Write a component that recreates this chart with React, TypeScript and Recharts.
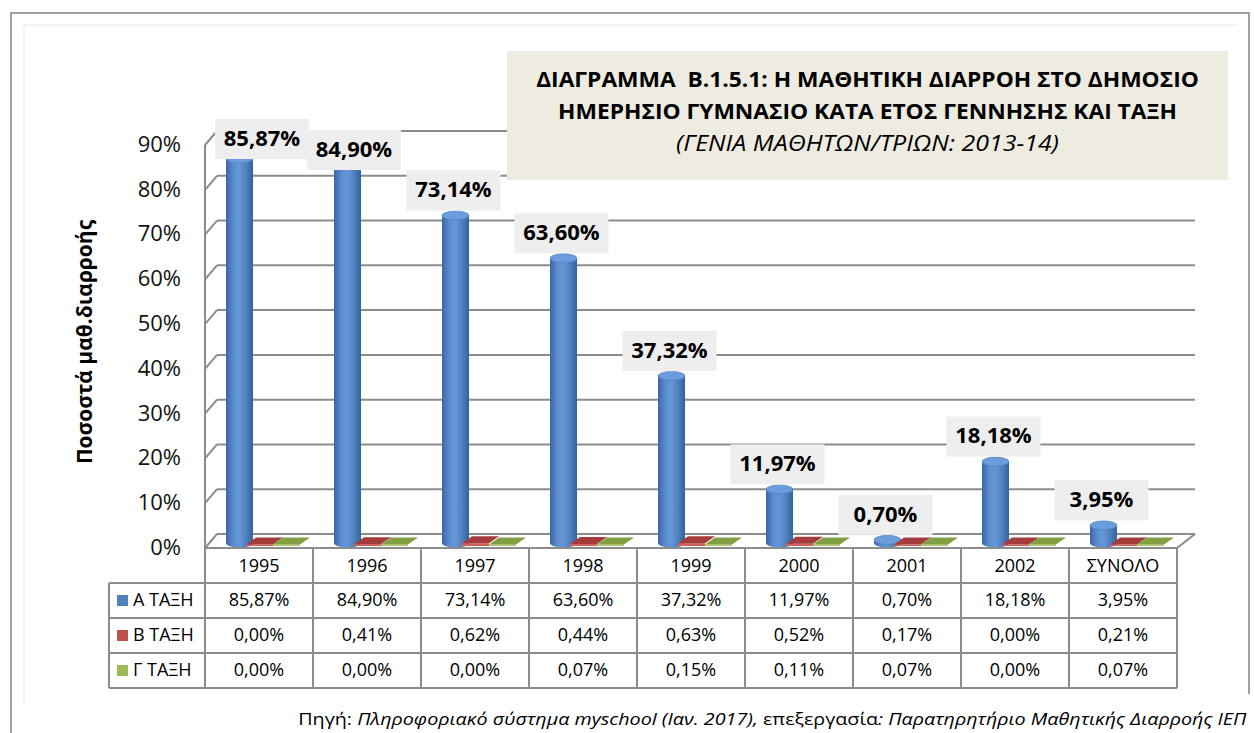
import { BarChart, Bar, XAxis, YAxis, CartesianGrid, LabelList } from 'recharts';

const years = ['1995', '1996', '1997', '1998', '1999', '2000', '2001', '2002', 'ΣΥΝΟΛΟ'];
const classA = [85.87, 84.9, 73.14, 63.6, 37.32, 11.97, 0.7, 18.18, 3.95];
const classB = [0.0, 0.41, 0.62, 0.44, 0.63, 0.52, 0.17, 0.0, 0.21];
const classC = [0.0, 0.0, 0.0, 0.07, 0.15, 0.11, 0.07, 0.0, 0.07];
const seriesNames = ['Α ΤΑΞΗ', 'Β ΤΑΞΗ', 'Γ ΤΑΞΗ'];
const yTicks = [0, 10, 20, 30, 40, 50, 60, 70, 80, 90];

const data = years.map((y, i) => ({ year: y, a: classA[i], b: classB[i], c: classC[i] }));

const FONT = '"Open Sans", "Noto Sans", sans-serif';
const W = 1254;
const H = 733;
const PLOT_L = 205;
const PLOT_R = 1177;
const PLOT_T = 145;
const PLOT_B = 548;
const DX = 12; // depth of the 3d walls
const DY = 14;
const GRID = '#8c8c8c';

const fmt = (v: number) => v.toFixed(2).replace('.', ',') + '%';

// blue cylinder
function Cylinder(props: any) {
  const { x, y, width, height } = props;
  if (x == null || y == null) return null;
  const cx = x + width / 2 + 7;
  const rx = width / 2;
  const ry = 4.5;
  const yb = y + height - 5;
  const yt = y - 5;
  return (
    <g>
      <path
        d={`M${cx - rx},${yt} L${cx - rx},${yb} A${rx},${ry} 0 0 0 ${cx + rx},${yb} L${cx + rx},${yt} Z`}
        fill="url(#cylGrad)"
      />
      <ellipse cx={cx} cy={yt} rx={rx} ry={ry} fill="#6b9ddc" stroke="#4a7cbc" strokeWidth={0.6} />
    </g>
  );
}

// flat red / green boxes lying on the floor
const makeSlab = (front: string, top: string) => (props: any) => {
  const { x, y, width, height } = props;
  if (x == null || y == null) return null;
  const h = Math.max(height, 1.5);
  const base = y + height - 2;
  const yt = base - h;
  const dx = 10;
  const dy = 7;
  return (
    <g>
      <rect x={x} y={yt} width={width} height={h} fill={front} />
      <polygon
        points={`${x},${yt} ${x + width},${yt} ${x + width + dx},${yt - dy} ${x + dx},${yt - dy}`}
        fill={top}
      />
    </g>
  );
};

const RedSlab = makeSlab('#d0605c', '#a33c3a');
const GreenSlab = makeSlab('#a9c76a', '#82a043');

// labels are drawn in category order; keep the last box so a label can step aside
let lastBox: { r: number; cy: number } | null = null;

function ValueLabel(props: any) {
  const { x, y, width, value, index } = props;
  if (index === 0) lastBox = null;
  const w = 94;
  const h = 40;
  let cx = x + width / 2 + 5;
  let cy = y - 30;
  if (cx - w / 2 < 215) cx = 215 + w / 2;
  if (cy < 139) cy = 139;
  if (lastBox && cx - w / 2 < lastBox.r && Math.abs(cy - lastBox.cy) < h) {
    cx = lastBox.r - 2 + w / 2;
    cy = lastBox.cy + 11;
  }
  lastBox = { r: cx + w / 2, cy };
  return (
    <g>
      <rect x={cx - w / 2} y={cy - h / 2} width={w} height={h} fill="#eeeeee" />
      <text x={cx} y={cy + 1} textAnchor="middle" dominantBaseline="middle" fontFamily={FONT} fontWeight={700} fontSize={22} fill="#000">
        {fmt(value)}
      </text>
    </g>
  );
}

function GridLine(p: any) {
  const { x1, x2, y1 } = p;
  return (
    <g key={p.key}>
      <line x1={x1} y1={y1} x2={x1 + DX} y2={y1 - DY} stroke={GRID} strokeWidth={2} />
      <line x1={x1 + DX} y1={y1 - DY} x2={x2 + 18} y2={y1 - DY} stroke={GRID} strokeWidth={2} />
      {Math.abs(y1 - PLOT_B) < 1 && (
        <line x1={x2} y1={y1} x2={x2 + 18} y2={y1 - DY} stroke={GRID} strokeWidth={2} />
      )}
    </g>
  );
}

function YTick(props: any) {
  const { y, payload } = props;
  return (
    <text x={181} y={y + 1} textAnchor="end" dominantBaseline="middle" fontFamily={FONT} fontSize={22} fill="#111">
      {payload.value + '%'}
    </text>
  );
}

const seriesRows = [classA, classB, classC];
const seriesColors = ['#4f81bd', '#c0504d', '#9bbb59'];
const ROW_H = 35;
const COL_W = (PLOT_R - PLOT_L) / years.length;
const TABLE_L = 109;

function DataTable() {
  const lines: any[] = [];
  const rowsY = [PLOT_B, PLOT_B + ROW_H, PLOT_B + 2 * ROW_H, PLOT_B + 3 * ROW_H, PLOT_B + 4 * ROW_H];
  rowsY.forEach((ry, i) => {
    lines.push(<line key={'h' + i} x1={i === 0 ? PLOT_L : TABLE_L} y1={ry} x2={PLOT_R} y2={ry} stroke={GRID} strokeWidth={2} />);
  });
  for (let i = 0; i <= years.length; i++) {
    const x = PLOT_L + i * COL_W;
    lines.push(<line key={'v' + i} x1={x} y1={PLOT_B} x2={x} y2={rowsY[4]} stroke={GRID} strokeWidth={2} />);
  }
  lines.push(<line key="vl" x1={TABLE_L} y1={rowsY[1]} x2={TABLE_L} y2={rowsY[4]} stroke={GRID} strokeWidth={2} />);
  return (
    <g fontFamily={FONT} fontSize={18} fill="#000">
      {lines}
      {years.map((yr, i) => (
        <text key={'y' + i} x={PLOT_L + (i + 0.5) * COL_W} y={PLOT_B + ROW_H / 2 + 2} textAnchor="middle" dominantBaseline="middle">
          {yr}
        </text>
      ))}
      {seriesRows.map((row, r) => (
        <g key={'r' + r}>
          <rect x={TABLE_L + 8} y={PLOT_B + ROW_H * (r + 1) + 12} width={11} height={11} fill={seriesColors[r]} />
          <text x={TABLE_L + 24} y={PLOT_B + ROW_H * (r + 1.5) + 1} dominantBaseline="middle">
            {seriesNames[r]}
          </text>
          {row.map((v, i) => (
            <text key={i} x={PLOT_L + (i + 0.5) * COL_W} y={PLOT_B + ROW_H * (r + 1.5) + 1} textAnchor="middle" dominantBaseline="middle">
              {fmt(v)}
            </text>
          ))}
        </g>
      ))}
    </g>
  );
}

export default function App() {
  return (
    <div style={{ position: 'absolute', left: 0, top: 0, width: W, height: H, background: '#fff', overflow: 'hidden' }}>
      <svg width={W} height={H} style={{ position: 'absolute', left: 0, top: 0 }}>
        <line x1={11} y1={12} x2={11} y2={H} stroke="#a0a0a0" strokeWidth={2} />
        <line x1={10} y1={13} x2={1250} y2={13} stroke="#a0a0a0" strokeWidth={2} />
        <line x1={1249} y1={12} x2={1249} y2={694} stroke="#a0a0a0" strokeWidth={2} />
        <line x1={24} y1={25} x2={24} y2={705} stroke="#e4e4e4" strokeWidth={1} />
        <line x1={24} y1={25} x2={1238} y2={25} stroke="#e4e4e4" strokeWidth={1} />
      </svg>
      <div style={{ position: 'absolute', left: 0, top: 0 }}>
        <BarChart
          width={W}
          height={H}
          data={data}
          margin={{ top: PLOT_T, right: W - PLOT_R, bottom: H - PLOT_B, left: PLOT_L - 60 }}
          barGap={0}
          barSize={27}
        >
          <defs>
            <linearGradient id="cylGrad" x1="0" y1="0" x2="1" y2="0">
              <stop offset="0%" stopColor="#3b67a1" />
              <stop offset="30%" stopColor="#5d90d2" />
              <stop offset="50%" stopColor="#6597d6" />
              <stop offset="78%" stopColor="#4b7dbd" />
              <stop offset="100%" stopColor="#33609a" />
            </linearGradient>
          </defs>
          <CartesianGrid vertical={false} horizontal={GridLine} />
          <XAxis dataKey="year" hide />
          <YAxis
            width={60}
            domain={[0, 90]}
            ticks={yTicks}
            interval={0}
            tickLine={false}
            axisLine={{ stroke: GRID, strokeWidth: 2 }}
            tick={YTick}
          />
          <Bar dataKey="a" name={seriesNames[0]} fill={seriesColors[0]} shape={Cylinder} isAnimationActive={false}>
            <LabelList dataKey="a" content={ValueLabel} />
          </Bar>
          <Bar dataKey="b" name={seriesNames[1]} fill={seriesColors[1]} shape={RedSlab} isAnimationActive={false} />
          <Bar dataKey="c" name={seriesNames[2]} fill={seriesColors[2]} shape={GreenSlab} isAnimationActive={false} />
        </BarChart>
      </div>
      <svg width={W} height={H} style={{ position: 'absolute', left: 0, top: 0, pointerEvents: 'none' }}>
        <DataTable />
        <text
          transform="translate(86,342) rotate(-90)"
          textAnchor="middle"
          dominantBaseline="middle"
          fontFamily={FONT}
          fontWeight={700}
          fontSize={21}
          fill="#000"
        >
          Ποσοστά μαθ.διαρροής
        </text>
      </svg>
      <div
        style={{
          position: 'absolute',
          left: 507,
          top: 51,
          width: 721,
          height: 129,
          background: '#eeece1',
          fontFamily: FONT,
          color: '#000',
          textAlign: 'center',
        }}
      >
        <div style={{ fontWeight: 700, fontSize: 20.5, lineHeight: '32px', marginTop: 12, transform: 'scaleX(1.11)' }}>
          ΔΙΑΓΡΑΜΜΑ&nbsp; Β.1.5.1: Η ΜΑΘΗΤΙΚΗ ΔΙΑΡΡΟΗ ΣΤΟ ΔΗΜΟΣΙΟ
        </div>
        <div style={{ fontWeight: 700, fontSize: 20.5, lineHeight: '32px', transform: 'scaleX(1.11)' }}>
          ΗΜΕΡΗΣΙΟ ΓΥΜΝΑΣΙΟ ΚΑΤΑ ΕΤΟΣ ΓΕΝΝΗΣΗΣ ΚΑΙ ΤΑΞΗ
        </div>
        <div style={{ fontStyle: 'italic', fontSize: 21.5, lineHeight: '32px', transform: 'scaleX(1.16)' }}>
          (ΓΕΝΙΑ ΜΑΘΗΤΩΝ/ΤΡΙΩΝ: 2013-14)
        </div>
      </div>
      <div
        style={{
          position: 'absolute',
          right: 8,
          top: 707,
          fontFamily: FONT,
          fontSize: 17,
          color: '#000',
          whiteSpace: 'nowrap',
          transform: 'scaleX(1.16)',
          transformOrigin: 'right center',
        }}
      >
        Πηγή: <i>Πληροφοριακό σύστημα myschool (Ιαν. 2017),</i> επεξεργασία<i>: Παρατηρητήριο Μαθητικής Διαρροής ΙΕΠ</i>
      </div>
    </div>
  );
}
